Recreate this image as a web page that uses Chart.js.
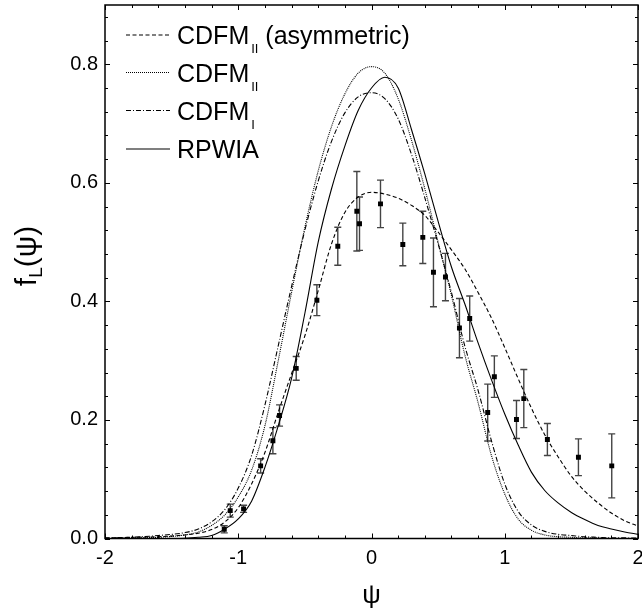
<!DOCTYPE html>
<html>
<head>
<meta charset="utf-8">
<script src="https://cdn.jsdelivr.net/npm/chart.js@4.4.0/dist/chart.umd.min.js"></script>
<style>
  html, body { margin: 0; padding: 0; background: #fff; }
  canvas { display: block; }
</style>
</head>
<body>
<canvas id="myChart" width="642" height="613"></canvas>
<script>
// psi values shared by the four model curves
const psiGrid = [-2, -1.8, -1.6, -1.4, -1.3, -1.2, -1.1, -1.0, -0.9, -0.8, -0.7, -0.6, -0.5, -0.4, -0.3, -0.2, -0.1, 0,
  0.1, 0.2, 0.3, 0.4, 0.5, 0.6, 0.7, 0.8, 0.9, 1.0, 1.1, 1.2, 1.3, 1.4, 1.5, 1.6, 1.7, 1.8, 1.9, 2.0];

const cdfm2Asym = [0.001, 0.002, 0.003, 0.006, 0.009, 0.015, 0.028, 0.052, 0.092, 0.145, 0.213, 0.278, 0.342, 0.418, 0.497, 0.55, 0.576, 0.584,
  0.581, 0.574, 0.562, 0.545, 0.517, 0.487, 0.455, 0.415, 0.372, 0.322, 0.27, 0.22, 0.175, 0.138, 0.105, 0.08, 0.06, 0.043, 0.03, 0.021];
const cdfm2 = [0.0, 0.001, 0.002, 0.006, 0.011, 0.022, 0.04, 0.07, 0.115, 0.19, 0.30, 0.415, 0.525, 0.62, 0.695, 0.75, 0.785, 0.796,
  0.785, 0.742, 0.672, 0.59, 0.50, 0.41, 0.31, 0.229, 0.14, 0.075, 0.033, 0.014, 0.006, 0.003, 0.002, 0.001, 0.001, 0.0, 0.0, 0.0];
const cdfm1 = [0.0005, 0.002, 0.005, 0.01, 0.016, 0.028, 0.049, 0.085, 0.14, 0.225, 0.325, 0.425, 0.52, 0.603, 0.67, 0.718, 0.745, 0.752,
  0.742, 0.708, 0.648, 0.575, 0.497, 0.415, 0.325, 0.25, 0.165, 0.092, 0.046, 0.023, 0.012, 0.007, 0.005, 0.003, 0.002, 0.001, 0.001, 0.0005];
const rpwia = [0, 0, 0, 0.0005, 0.002, 0.005, 0.016, 0.033, 0.063, 0.12, 0.19, 0.27, 0.38, 0.5, 0.59, 0.662, 0.722, 0.76,
  0.778, 0.76, 0.69, 0.615, 0.535, 0.458, 0.396, 0.33, 0.268, 0.21, 0.158, 0.112, 0.081, 0.06, 0.044, 0.032, 0.022, 0.016, 0.011, 0.007];

// measured points with errors
const dataPsi = [-1.105, -1.06, -0.96, -0.832, -0.74, -0.69, -0.565, -0.41, -0.253, -0.11, -0.09, 0.0675, 0.235, 0.385, 0.465, 0.555,
  0.66, 0.737, 0.872, 0.922, 1.088, 1.143, 1.32, 1.553, 1.803];
const dataF = [0.0155, 0.047, 0.050, 0.1225, 0.165, 0.2075, 0.287, 0.402, 0.493, 0.552, 0.531, 0.5645, 0.496, 0.508, 0.449, 0.441,
  0.355, 0.371, 0.2125, 0.273, 0.2007, 0.236, 0.167, 0.137, 0.1225];
const dataErr = [0.006, 0.011, 0.006, 0.012, 0.022, 0.018, 0.02, 0.026, 0.032, 0.067, 0.045, 0.04, 0.036, 0.044, 0.058, 0.04,
  0.05, 0.038, 0.048, 0.035, 0.032, 0.049, 0.027, 0.031, 0.054];

const xTicks = [-2, -1, 0, 1, 2];
const yTicks = [0, 0.2, 0.4, 0.6, 0.8];

const legendMain = ['CDFM', 'CDFM', 'CDFM', 'RPWIA'];
const legendSub = ['II', 'II', 'I', ''];
const legendTail = [' (asymmetric)', '', '', ''];

const FONT = 'Arial, "Liberation Sans", sans-serif';
const dashes = [[4, 2.5], [1, 1], [5, 2, 1, 2], []];

function curve(label, ys, dash) {
  return {
    label: label,
    data: psiGrid.map((p, i) => ({ x: p, y: ys[i] })),
    showLine: true,
    borderColor: '#000',
    borderWidth: 1.1,
    borderDash: dash,
    pointRadius: 0,
    cubicInterpolationMode: 'monotone',
    fill: false
  };
}

const errorBars = {
  id: 'errorBars',
  beforeDatasetsDraw(chart) {
    const { ctx, scales: { x, y } } = chart;
    ctx.save();
    ctx.strokeStyle = '#444';
    ctx.lineWidth = 1.4;
    ctx.beginPath();
    dataPsi.forEach((p, i) => {
      const px = x.getPixelForValue(p);
      const top = y.getPixelForValue(dataF[i] + dataErr[i]);
      const bot = y.getPixelForValue(dataF[i] - dataErr[i]);
      ctx.moveTo(px, top); ctx.lineTo(px, bot);
      ctx.moveTo(px - 3.5, top); ctx.lineTo(px + 3.5, top);
      ctx.moveTo(px - 3.5, bot); ctx.lineTo(px + 3.5, bot);
    });
    ctx.stroke();
    ctx.restore();
  }
};

const frame = {
  id: 'frame',
  afterDraw(chart) {
    const { ctx, chartArea: a, scales: { x, y } } = chart;
    ctx.save();
    ctx.strokeStyle = '#000';
    ctx.lineWidth = 1.5;
    ctx.strokeRect(a.left, a.top, a.right - a.left, a.bottom - a.top);

    // inward ticks on all four sides
    ctx.lineWidth = 1;
    ctx.beginPath();
    for (let k = 0; k <= 20; k++) {
      const v = -2 + k * 0.2;
      const px = Math.round(x.getPixelForValue(v)) + 0.5;
      const len = k % 5 === 0 ? 5 : 3;
      ctx.moveTo(px, a.bottom); ctx.lineTo(px, a.bottom - len);
      ctx.moveTo(px, a.top); ctx.lineTo(px, a.top + len);
    }
    for (let k = 0; k <= 22; k++) {
      const v = k * 0.04;
      const py = Math.round(y.getPixelForValue(v)) + 0.5;
      const len = k % 5 === 0 ? 5 : 3;
      ctx.moveTo(a.left, py); ctx.lineTo(a.left + len, py);
      ctx.moveTo(a.right, py); ctx.lineTo(a.right - len, py);
    }
    ctx.stroke();

    // axis titles
    ctx.fillStyle = '#000';
    ctx.textAlign = 'center';
    ctx.textBaseline = 'alphabetic';
    ctx.font = '26px ' + FONT;
    ctx.fillText('\u03c8', (a.left + a.right) / 2, 603);

    ctx.save();
    ctx.translate(36, 256);
    ctx.rotate(-Math.PI / 2);
    ctx.textAlign = 'left';
    ctx.font = '30px ' + FONT;
    const wF = ctx.measureText('f').width;
    const wRest = ctx.measureText('(\u03c8)').width;
    ctx.font = '19px ' + FONT;
    const wL = ctx.measureText('L').width;
    let sx = -(wF + wL + wRest) / 2;
    ctx.font = '30px ' + FONT;
    ctx.fillText('f', sx, 0);
    sx += wF;
    ctx.font = '19px ' + FONT;
    ctx.fillText('L', sx, 6);
    sx += wL;
    ctx.font = '30px ' + FONT;
    ctx.fillText('(\u03c8)', sx, 0);
    ctx.restore();

    // legend
    const rowY = [35, 72.5, 110.5, 149];
    rowY.forEach((ry, i) => {
      ctx.lineWidth = 1.1;
      ctx.setLineDash(dashes[i]);
      ctx.beginPath();
      ctx.moveTo(126, ry); ctx.lineTo(170, ry);
      ctx.stroke();
      ctx.setLineDash([]);
      ctx.textAlign = 'left';
      ctx.font = '25px ' + FONT;
      let tx = 177;
      ctx.fillText(legendMain[i], tx, ry + 9);
      tx += ctx.measureText(legendMain[i]).width + 2;
      if (legendSub[i]) {
        ctx.font = '13px ' + FONT;
        ctx.fillText(legendSub[i], tx, ry + 18);
        tx += ctx.measureText(legendSub[i]).width;
      }
      if (legendTail[i]) {
        ctx.font = '25px ' + FONT;
        ctx.fillText(legendTail[i], tx, ry + 9);
      }
    });
    ctx.restore();
  }
};

new Chart(document.getElementById('myChart').getContext('2d'), {
  type: 'scatter',
  data: {
    datasets: [
      curve('CDFM_II (asymmetric)', cdfm2Asym, dashes[0]),
      curve('CDFM_II', cdfm2, dashes[1]),
      curve('CDFM_I', cdfm1, dashes[2]),
      curve('RPWIA', rpwia, dashes[3]),
      {
        label: 'data',
        data: dataPsi.map((p, i) => ({ x: p, y: dataF[i] })),
        pointStyle: 'rect',
        pointRadius: 3.5,
        backgroundColor: '#000',
        borderColor: '#000',
        borderWidth: 0,
        showLine: false
      }
    ]
  },
  options: {
    responsive: false,
    animation: false,
    layout: { padding: { top: 5, right: 2, left: 0, bottom: 0 } },
    plugins: { legend: { display: false }, tooltip: { enabled: false } },
    scales: {
      x: {
        type: 'linear', min: -2, max: 2,
        grid: { display: false, drawTicks: false },
        border: { display: false },
        afterFit: s => { s.height = 74.5; s.paddingLeft = 0; s.paddingRight = 0; },
        afterBuildTicks: s => { s.ticks = xTicks.map(v => ({ value: v })); },
        ticks: { color: '#000', font: { size: 20, family: FONT }, padding: 8, maxRotation: 0,
          callback: v => String(v) }
      },
      y: {
        type: 'linear', min: 0, max: 0.9,
        grid: { display: false, drawTicks: false },
        border: { display: false },
        afterFit: s => { s.width = 105; s.paddingTop = 0; s.paddingBottom = 0; },
        afterBuildTicks: s => { s.ticks = yTicks.map(v => ({ value: v })); },
        ticks: { color: '#000', font: { size: 20, family: FONT }, padding: 7,
          callback: v => v.toFixed(1) }
      }
    }
  },
  plugins: [errorBars, frame]
});
</script>
</body>
</html>
